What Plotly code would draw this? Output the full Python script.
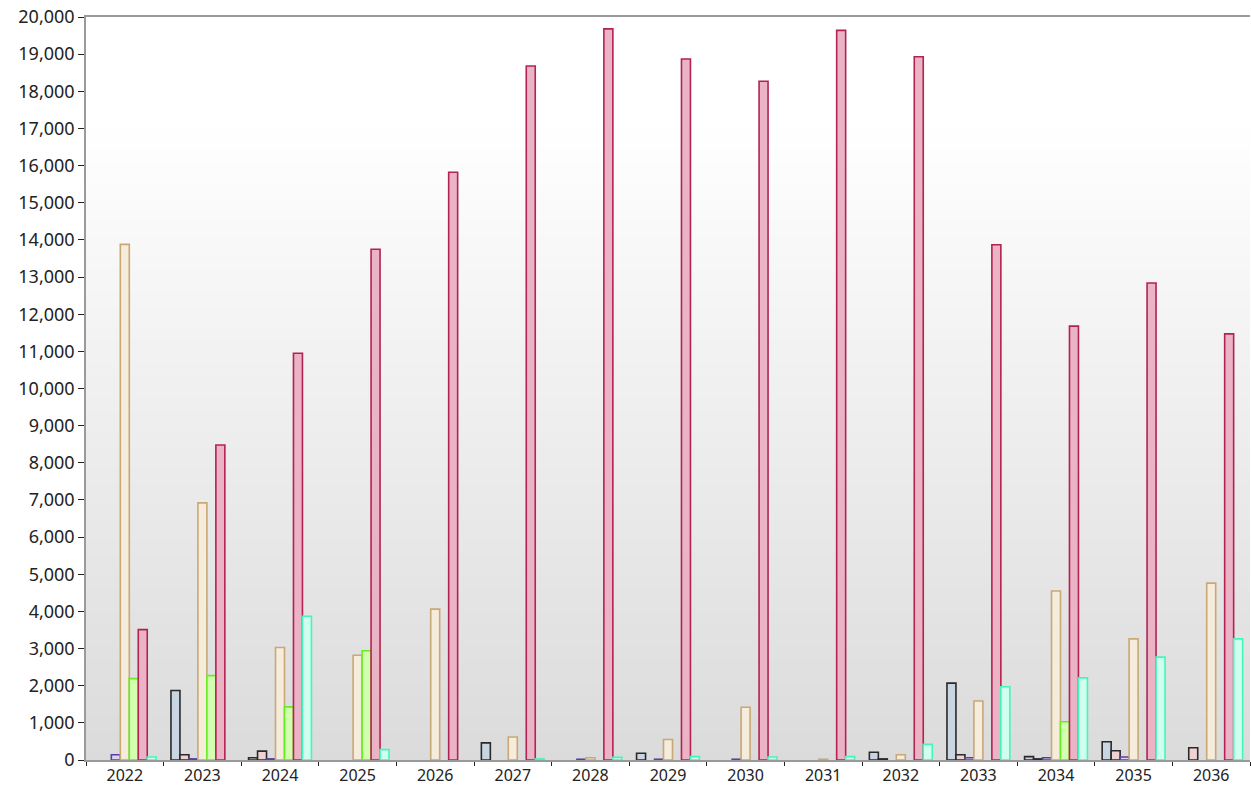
import plotly.graph_objects as go

years = [str(y) for y in range(2022, 2037)]

s1 = [None, 1870, 60, None, None, 460, None, 180, None, None, 210, 2070, 90, 490, None]
s2 = [None, 140, 240, None, None, None, None, None, None, None, 30, 140, 30, 250, 330]
s3 = [140, 30, 30, None, None, None, 20, 20, 20, None, None, 60, 60, 80, None]
s4 = [13880, 6920, 3030, 2820, 4060, 620, 60, 550, 1420, 20, 140, 1590, 4550, 3260, 4760]
s5 = [2190, 2270, 1430, 2940, None, None, None, None, None, None, None, None, 1030, None, None]
s6 = [3510, 8480, 10950, 13750, 15820, 18680, 19680, 18870, 18270, 19640, 18930, 13870, 11680, 12840, 11470]
s7 = [80, None, 3870, 280, None, 30, 70, 90, 80, 90, 420, 1970, 2210, 2770, 3260]

series = [
    ("S1", s1, "#2a2a2a", "#c9d5e2"),
    ("S2", s2, "#2a2a2a", "#efd2d2"),
    ("S3", s3, "#5b3fa0", "#dcd3f2"),
    ("S4", s4, "#c8a874", "#f6ecdc"),
    ("S5", s5, "#66ee22", "#d2ffb0"),
    ("S6", s6, "#b3234f", "#ebb3c6"),
    ("S7", s7, "#44f7b8", "#d0fff0"),
]

fig = go.Figure()
for name, vals, line, fill in series:
    fig.add_trace(go.Bar(
        x=years, y=vals, name=name,
        marker=dict(color=fill, line=dict(color=line, width=1.6)),
    ))

# gradient background bands
shapes = []
n = 90
top_frac = 0.86
for i in range(n):
    y0 = top_frac * i / n
    y1 = top_frac * (i + 1) / n + 0.002
    t = (i + 0.5) / n
    c = int(round(219 + (255 - 219) * t))
    shapes.append(dict(type="rect", xref="paper", yref="paper", x0=0, x1=1,
                       y0=y0, y1=min(y1, 1), fillcolor=f"rgb({c},{c},{c})",
                       line=dict(width=0), layer="below"))

tickvals = list(range(0, 20001, 1000))

fig.update_layout(
    width=1251, height=785,
    margin=dict(l=86, r=1, t=17, b=25),
    paper_bgcolor="white",
    plot_bgcolor="white",
    barmode="group",
    bargap=0.19,
    bargroupgap=0,
    showlegend=False,
    shapes=shapes,
    font=dict(family="Noto Sans", size=18, color="#222"),
    xaxis=dict(
        type="category", automargin=False,
        showline=True, linecolor="#9a9a9a", linewidth=1.5, mirror=True,
        ticks="outside", tickson="boundaries", ticklen=4, tickcolor="#222",
        showgrid=False, tickfont=dict(size=16),
    ),
    yaxis=dict(
        range=[0, 20000], tickvals=tickvals, tickformat=",", automargin=False,
        showline=True, linecolor="#9a9a9a", linewidth=1.5,
        ticks="outside", ticklen=6, tickcolor="#222",
        showgrid=False, zeroline=False, tickfont=dict(size=18),
    ),
)

fig.write_html("out.html",
               config={"displayModeBar": False},
               post_script="document.body.style.margin='0';document.body.style.overflow='hidden';")
